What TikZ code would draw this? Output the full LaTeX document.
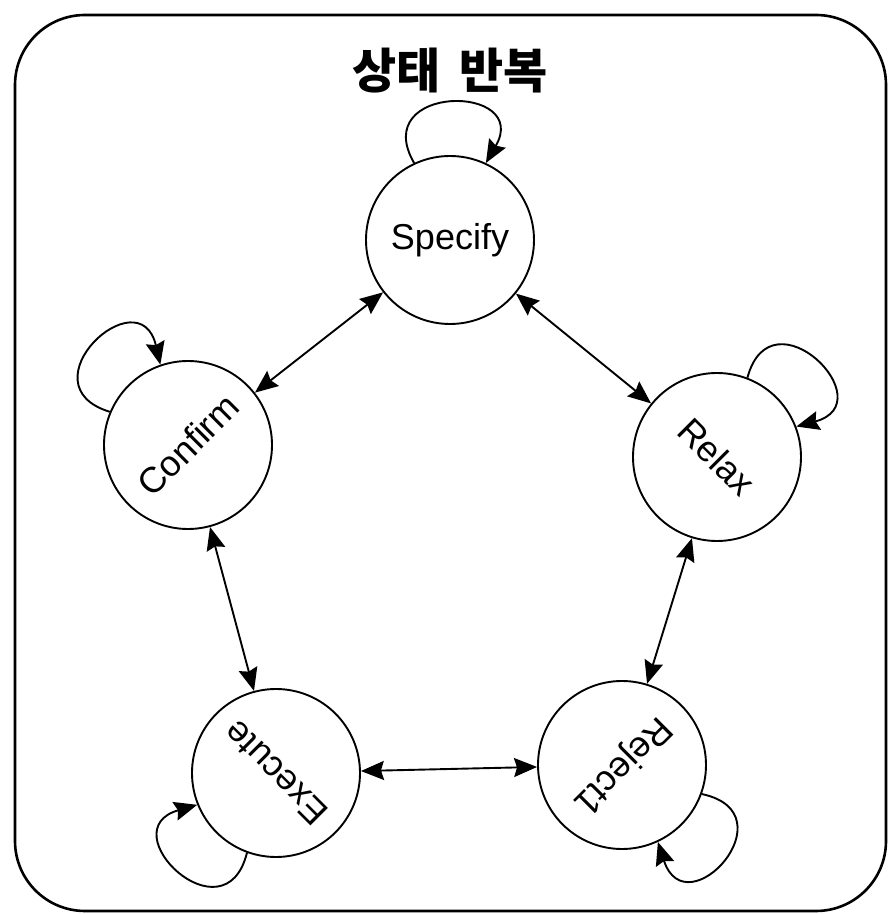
\documentclass[tikz,border=0pt]{standalone}
\usepackage{fontspec}
\setmainfont{Liberation Sans}
\newfontfamily\krfont{Noto Sans CJK KR}
\usetikzlibrary{arrows.meta}

\tikzset{
  stnode/.style={circle, draw, line width=1.9pt, minimum size=168pt, inner sep=0pt,
                 font=\fontsize{36}{40}\selectfont},
  link/.style={line width=1.9pt, {Stealth[length=23pt,width=19pt,inset=3pt]}-{Stealth[length=23pt,width=19pt,inset=3pt]}},
  selfloop/.style={line width=1.9pt, -{Stealth[length=23pt,width=19pt,inset=3pt]}}
}

\begin{document}
\begin{tikzpicture}[x=1pt,y=1pt]
  \useasboundingbox (0,0) rectangle (888,914);

  % frame
  \draw[line width=2.6pt, rounded corners=70pt] (15,3) rectangle (886,899);

  % title
  \node (title) at (450,843) {\krfont\bfseries\fontsize{48}{52}\selectfont 상태\hspace{8pt} 반복};

  % states
  \node[stnode] (specify) at (450,674) {Specify};
  \node[stnode] (confirm) at (188,469) {\rotatebox{45}{Confirm}};
  \node[stnode] (relax)   at (717,457) {\rotatebox{-45}{Relax}};
  \node[stnode] (execute) at (276,141) {\rotatebox{135}{Execute}};
  \node[stnode] (reject)  at (622,149) {\rotatebox{-135}{Reject1}};

  % transitions between states
  \draw[link] (specify) -- (confirm);
  \draw[link] (specify) -- (relax);
  \draw[link] (confirm) -- (execute);
  \draw[link] (relax) -- (reject);
  \draw[link] (execute) -- (reject);

  % self loops
  \draw[selfloop] (specify.115) to[out=120,in=60,distance=92pt] (specify.65);
  \draw[selfloop] (confirm.157) to[out=163,in=103,distance=92pt] (confirm.109);
  \draw[selfloop] (relax.69) to[out=75,in=15,distance=92pt] (relax.21);
  \draw[selfloop] (execute.250) to[out=256,in=196,distance=92pt] (execute.202);
  \draw[selfloop] (reject.-20) to[out=-12,in=-72,distance=92pt] (reject.-65);
\end{tikzpicture}
\end{document}
